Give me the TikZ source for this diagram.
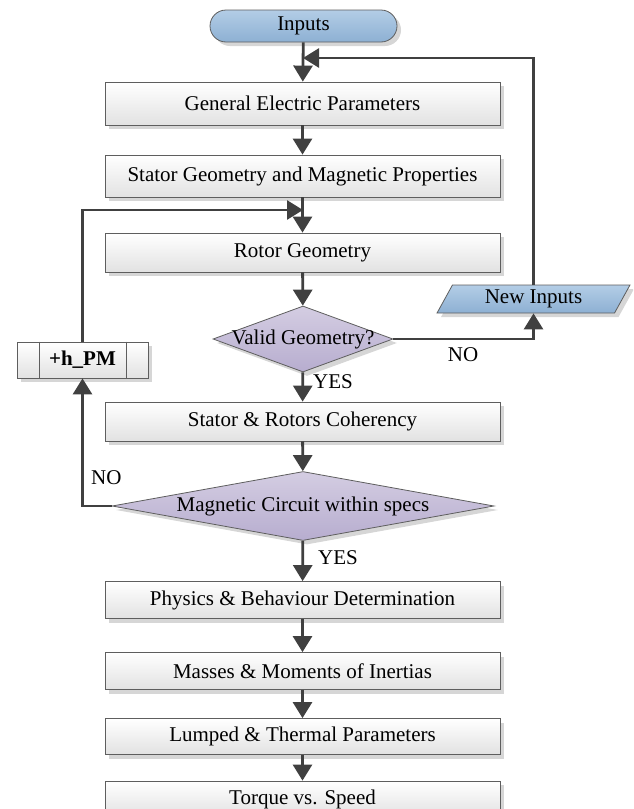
\documentclass[tikz,border=0pt]{standalone}
\usepackage{fontspec}
\setmainfont{Liberation Serif}
\usetikzlibrary{shapes.geometric,shadows,arrows.meta}
\definecolor{edgegray}{HTML}{5E5E5E}
\definecolor{linegray}{HTML}{404040}
\definecolor{boxlow}{HTML}{E2E2E2}
\definecolor{lilactop}{HTML}{D4CDE2}
\definecolor{lilaclow}{HTML}{B7ADCF}
\definecolor{bluetop}{HTML}{B3CDE6}
\definecolor{bluelow}{HTML}{8DB0D3}
\definecolor{shadowgray}{HTML}{D6D6D6}
\begin{document}
\begin{tikzpicture}[x=1pt,y=-1pt,
  font=\fontsize{21}{25}\selectfont,
  flow/.style={draw=edgegray, line width=0.8pt,
    drop shadow={shadow xshift=4pt, shadow yshift=-4pt, fill=shadowgray, opacity=1}},
  procbox/.style={flow, rectangle, top color=white, bottom color=boxlow,
    minimum width=395pt, inner sep=0pt},
  decision/.style={flow, diamond, top color=lilactop, bottom color=lilaclow, inner sep=0pt},
  terminal/.style={flow, rectangle, rounded corners=16pt, top color=bluetop, bottom color=bluelow,
    minimum width=187pt, minimum height=32pt, inner sep=0pt},
  datain/.style={flow, trapezium, trapezium left angle=63, trapezium right angle=117,
    trapezium stretches=true, top color=bluetop, bottom color=bluelow,
    minimum width=193pt, minimum height=28pt, inner sep=0pt},
  predef/.style={flow, rectangle, top color=white, bottom color=boxlow,
    minimum width=131pt, minimum height=36pt, inner sep=0pt},
  arr/.style={draw=linegray, line width=2.8pt, -{Triangle[length=16pt,width=19pt]}},
  lbl/.style={inner sep=0pt, text=black}
]
\useasboundingbox (0,0) rectangle (633,809);
\begin{scope}
\clip (0,0) rectangle (633,809);

% main column
\node[terminal] (inp) at (303.5,26) {Inputs};
\node[procbox, minimum height=43pt] (gep) at (302.5,103.5) {General Electric Parameters};
\node[procbox, minimum height=42pt] (sg) at (302.5,176) {Stator Geometry and Magnetic Properties};
\node[procbox, minimum height=39pt] (rg) at (302.5,252.5) {Rotor Geometry};
\node[decision, minimum width=180pt, minimum height=66pt] (vg) at (303,339)
  {\makebox[0pt]{Valid Geometry?}};
\node[procbox, minimum height=39pt] (coh) at (302.5,421.5) {Stator \& Rotors Coherency};
\node[decision, minimum width=382pt, minimum height=69pt] (mc) at (303,506)
  {\makebox[0pt]{Magnetic Circuit within specs}};
\node[procbox, minimum height=37pt] (phy) at (302.5,600) {Physics \& Behaviour Determination};
\node[procbox, minimum height=37pt] (mas) at (302.5,671) {Masses \& Moments of Inertias};
\node[procbox, minimum height=36pt] (lum) at (302.5,736.5) {Lumped \& Thermal Parameters};
\node[procbox, minimum height=36pt] (tor) at (302.5,799) {Torque vs. Speed};

% side blocks
\node[datain] (ni) at (533.5,299) {New Inputs};
\node[predef] (hpm) at (82.5,360) {\textbf{+h\_PM}};
\draw[edgegray, line width=0.8pt] ([xshift=23pt]hpm.north west) -- ([xshift=23pt]hpm.south west)
  ([xshift=-22pt]hpm.north east) -- ([xshift=-22pt]hpm.south east);

% junction points on the main line
\coordinate (fbin) at (303,58);
\coordinate (pmin) at (303,210);

% connectors
\draw[arr] (inp) -- (gep);
\draw[arr] (gep) -- (sg);
\draw[arr] (sg) -- (rg);
\draw[arr] (rg) -- (vg);
\draw[arr] (vg) -- (coh);
\draw[arr] (coh) -- (mc);
\draw[arr] (mc) -- (phy);
\draw[arr] (phy) -- (mas);
\draw[arr] (mas) -- (lum);
\draw[arr] (lum) -- (tor);
\draw[arr] (vg.east) -| (ni.south);
\draw[arr] (ni.north) |- (fbin);
\draw[arr] (mc.west) -| (hpm.south);
\draw[arr] (hpm.north) |- (pmin);

% branch labels
\node[lbl, anchor=west] (yes1) at (313,382) {YES};
\node[lbl] (no1) at (463,355) {NO};
\node[lbl, anchor=west] (no2) at (91,478) {NO};
\node[lbl, anchor=west] (yes2) at (318,558) {YES};
\end{scope}
\end{tikzpicture}
\end{document}
